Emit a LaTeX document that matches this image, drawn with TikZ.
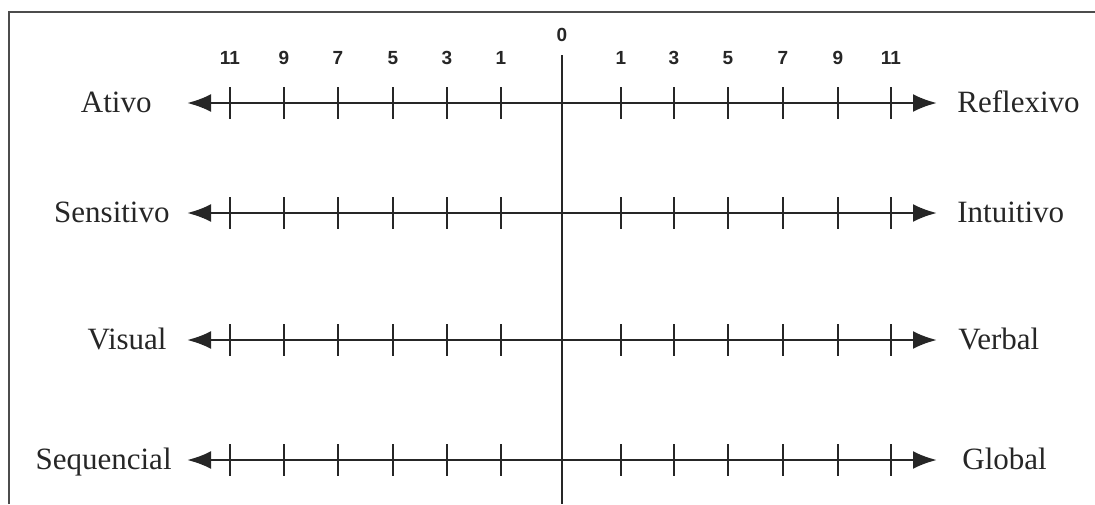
\documentclass[tikz,border=0pt]{standalone}
\usepackage{fontspec}
\setmainfont{Liberation Serif}
\newfontfamily\numfont{Liberation Sans}
\usetikzlibrary{arrows.meta}

\begin{document}
\begin{tikzpicture}[x=0.5pt, y=-0.5pt,
    axisline/.style={line width=1.4pt, black!85, {Latex[length=12pt,width=9pt]}-{Latex[length=12pt,width=9pt]}},
    tick/.style={line width=0.9pt, black!85},
    pole/.style={font=\fontsize{15.5}{18}\selectfont, text=black!85, inner sep=0pt},
    num/.style={font=\numfont\bfseries\fontsize{9.5}{11}\selectfont, text=black!85, inner sep=0pt}]
    \useasboundingbox (0,0) rectangle (1095,504);
    % frame
    \draw[line width=1.3pt, black!70] (9,504) -- (9,12) -- (1095,12);
    % zero line
    \node[num] (zero) at (562,35) {0};
    \coordinate (top) at (562,55);
    \coordinate (bottom) at (562,504);
    \draw[tick] (top) -- (bottom);
    % scale numbers
    \foreach \x/\v [count=\i] in {230/11, 284/9, 338/7, 393/5, 447/3, 501/1}
        \node[num] (nl\i) at (\x,58) {\v};
    \foreach \x/\v [count=\i] in {621/1, 674/3, 728/5, 783/7, 838/9, 891/11}
        \node[num] (nr\i) at (\x,58) {\v};
    % the four scales
    \foreach \y/\l/\r/\lx/\rx [count=\i] in {103/Ativo/Reflexivo/152/957,
            213/Sensitivo/Intuitivo/170/957,
            340/Visual/Verbal/167/958,
            460/Sequencial/Global/172/962} {
        \coordinate (l\i) at (187,\y);
        \coordinate (r\i) at (937,\y);
        \node[pole, anchor=base east] (left\i) at (\lx,\y+9) {\l};
        \node[pole, anchor=base west] (right\i) at (\rx,\y+9) {\r};
        \draw[axisline] (l\i) -- (r\i);
        \foreach \x in {230, 284, 338, 393, 447, 501, 621, 674, 728, 783, 838, 891}
            \draw[tick] (\x,\y-16) -- (\x,\y+16);
    }
\end{tikzpicture}
\end{document}
